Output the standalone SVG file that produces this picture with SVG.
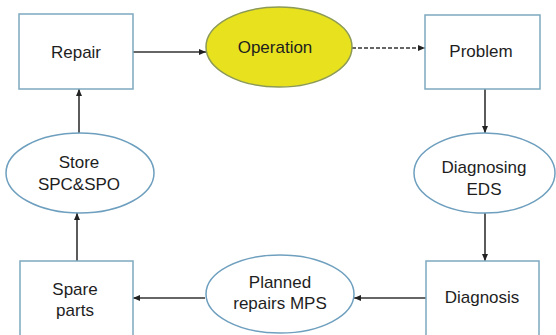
<svg xmlns="http://www.w3.org/2000/svg" width="556" height="335" viewBox="0 0 556 335">
<style>
.box{fill:#fff;stroke:#7ea9c0;stroke-width:1.5}
.ell{fill:#fff;stroke:#6e9fbe;stroke-width:1.5}
.op{fill:#e8e11e;stroke:#8c9a55;stroke-width:1.5}
text{font-family:"Liberation Sans",Arial,sans-serif;font-size:17px;fill:#1e1e1e;text-anchor:middle}
.c{stroke:#333;stroke-width:1.6;fill:none;marker-end:url(#ah)}
.d{stroke-dasharray:4 2}
</style>
<defs>
<marker id="ah" markerWidth="8" markerHeight="8" refX="7" refY="4" orient="auto" markerUnits="userSpaceOnUse">
<path d="M0,1 L7,4 L0,7 Z" fill="#222"/>
</marker>
</defs>
<rect width="556" height="335" fill="#fff"/>
<g id="connectors">
<line class="c" x1="133" y1="52" x2="206" y2="52"/>
<line class="c d" x1="352" y1="48" x2="425" y2="48"/>
<line class="c" x1="485" y1="89" x2="485" y2="133"/>
<line class="c" x1="485" y1="213" x2="485" y2="261"/>
<line class="c" x1="426" y1="298" x2="354" y2="298"/>
<line class="c" x1="205" y1="298" x2="133" y2="298"/>
<line class="c" x1="77" y1="261" x2="77" y2="213"/>
<line class="c" x1="79" y1="133" x2="79" y2="89"/>
</g>
<g id="repair">
<rect class="box" x="19" y="14" width="114" height="75"/>
<text x="76" y="58">Repair</text>
</g>
<g id="operation">
<ellipse class="op" cx="279" cy="47" rx="73" ry="40"/>
<text x="275" y="53">Operation</text>
</g>
<g id="problem">
<rect class="box" x="425" y="15" width="115" height="74"/>
<text x="481" y="57">Problem</text>
</g>
<g id="diagnosing">
<ellipse class="ell" cx="484.5" cy="173" rx="70.5" ry="40"/>
<text x="484" y="173">Diagnosing</text>
<text x="484" y="195">EDS</text>
</g>
<g id="store">
<ellipse class="ell" cx="80" cy="173" rx="74" ry="40"/>
<text x="79" y="168">Store</text>
<text x="79" y="190">SPC&amp;SPO</text>
</g>
<g id="diagnosis">
<rect class="box" x="426" y="261" width="113" height="85"/>
<text x="482" y="303">Diagnosis</text>
</g>
<g id="planned">
<ellipse class="ell" cx="280" cy="294" rx="74" ry="39"/>
<text x="280" y="288">Planned</text>
<text x="280" y="309">repairs MPS</text>
</g>
<g id="spare">
<rect class="box" x="20" y="261" width="113" height="85"/>
<text x="75" y="295">Spare</text>
<text x="75" y="316">parts</text>
</g>
</svg>
